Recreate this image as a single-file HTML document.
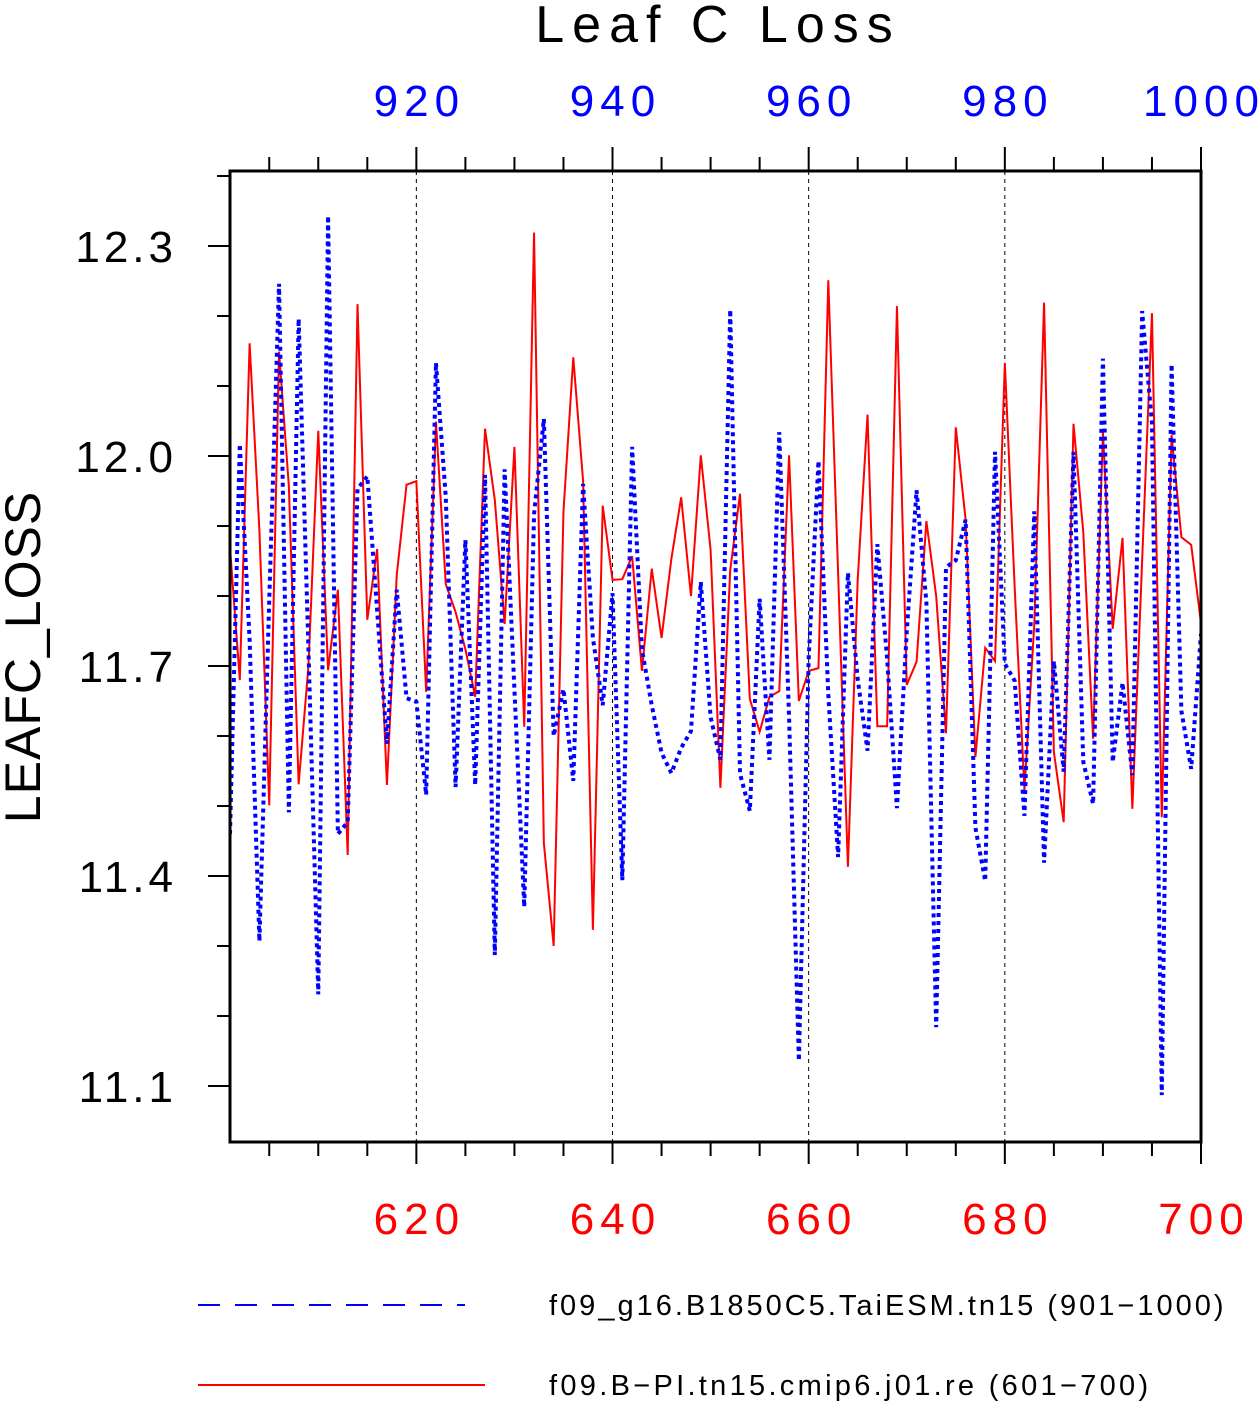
<!DOCTYPE html>
<html><head><meta charset="utf-8"><style>
html,body{margin:0;padding:0;background:#fff;}
svg{display:block;font-family:"Liberation Sans",sans-serif;}
</style></head><body>
<svg id="chart" width="1258" height="1403" viewBox="0 0 1258 1403">
<text x="718" y="42" font-size="52" letter-spacing="8" text-anchor="middle" fill="#000">Leaf C Loss</text>
<text transform="translate(40,657) rotate(-90)" font-size="50" letter-spacing="1" text-anchor="middle" fill="#000">LEAFC_LOSS</text>
<g id="grid"></g>
<g id="ticks"></g>
<g id="series"></g>
<rect x="230" y="171" width="971" height="971" fill="none" stroke="#000" stroke-width="3"/>
<g id="labels"></g>
<g>
<line x1="198" y1="1305" x2="465" y2="1305" stroke="#0000ff" stroke-width="2" stroke-dasharray="22 15"/>
<text x="549" y="1315" font-size="29" letter-spacing="3" fill="#000">f09_g16.B1850C5.TaiESM.tn15 (901−1000)</text>
<line x1="198" y1="1385" x2="485" y2="1385" stroke="#ff0000" stroke-width="2"/>
<text x="549" y="1395" font-size="29" letter-spacing="3.3" fill="#000">f09.B−PI.tn15.cmip6.j01.re (601−700)</text>
</g>
</svg>
<script>
const redYears=[]; for(let y=601;y<=700;y++) redYears.push(y);
const redValues=[11.869,11.680,12.161,11.893,11.501,12.149,11.957,11.531,11.700,12.036,11.694,11.809,11.430,12.217,11.766,11.867,11.530,11.830,11.959,11.964,11.663,12.049,11.817,11.777,11.724,11.656,12.039,11.937,11.760,12.013,11.613,12.319,11.447,11.300,11.921,12.141,11.964,11.323,11.929,11.823,11.824,11.857,11.693,11.839,11.740,11.853,11.941,11.800,12.001,11.866,11.526,11.837,11.946,11.653,11.606,11.656,11.664,12.001,11.650,11.693,11.697,12.251,11.833,11.413,11.824,12.059,11.614,11.614,12.214,11.673,11.706,11.907,11.800,11.604,12.041,11.909,11.570,11.726,11.707,12.133,11.813,11.523,11.759,12.219,11.577,11.477,12.046,11.891,11.596,12.034,11.753,11.883,11.496,11.851,12.204,11.484,12.030,11.884,11.873,11.761];
const blueYears=[]; for(let y=901;y<=1000;y++) blueYears.push(y);
const blueValues=[11.460,12.017,11.737,11.307,11.794,12.246,11.491,12.196,11.723,11.231,12.343,11.460,11.477,11.953,11.971,11.780,11.589,11.809,11.654,11.649,11.516,12.133,11.941,11.527,11.880,11.530,11.973,11.287,11.981,11.666,11.356,11.917,12.053,11.600,11.667,11.536,11.960,11.740,11.644,11.804,11.394,12.013,11.724,11.644,11.576,11.547,11.583,11.607,11.820,11.627,11.566,12.209,11.546,11.493,11.796,11.566,12.034,11.627,11.136,11.710,11.993,11.660,11.427,11.833,11.681,11.579,11.874,11.710,11.497,11.749,11.951,11.791,11.184,11.841,11.851,11.909,11.469,11.393,12.006,11.703,11.679,11.486,11.921,11.419,11.707,11.549,12.006,11.563,11.503,12.139,11.563,11.676,11.544,12.207,12.047,11.087,12.131,11.636,11.553,11.746];
const yTickValues=[11.1,11.4,11.7,12.0,12.3];
const yTickLabels=["11.1","11.4","11.7","12.0","12.3"];
const bottomTicks=[620,640,660,680,700];
const topTicks=[920,940,960,980,1000];

const NS="http://www.w3.org/2000/svg";
const X0=230,X1=1201,Y0=171,Y1=1142;
const xRed=v=>X0+(v-601)*(X1-X0)/99;
const xBlue=v=>X0+(v-901)*(X1-X0)/99;
const yS=v=>246+(12.3-v)*700;
function mk(tag,attrs,parent){const e=document.createElementNS(NS,tag);for(const k in attrs)e.setAttribute(k,attrs[k]);parent.appendChild(e);return e;}
const grid=document.getElementById('grid'),ticks=document.getElementById('ticks'),labels=document.getElementById('labels'),series=document.getElementById('series');

bottomTicks.forEach((t,i)=>{
  if(t<700){const g=mk('line',{x1:xRed(t),x2:xRed(t),y1:Y0,y2:Y1,stroke:'#000','stroke-width':1,'stroke-dasharray':'4 4'},grid);
  
  }
  const l=mk('text',{x:xRed(t)+3,y:1234,'font-size':44,'letter-spacing':6,'text-anchor':'middle',fill:'#ff0000'},labels);
  l.textContent=t;
  
  
});
topTicks.forEach(t=>{
  const l=mk('text',{x:xBlue(t)+3,y:116,'font-size':44,'letter-spacing':6,'text-anchor':'middle',fill:'#0000ff'},labels);
  l.textContent=t;
  
  
});
for(let yr=605;yr<=700;yr+=5){
  const major=yr%20===0;
  const x=xRed(yr);
  const a=mk('line',{x1:x,x2:x,y1:Y1,y2:Y1+(major?22:14),stroke:'#000','stroke-width':2},ticks);
  
  
  const b=mk('line',{x1:x,x2:x,y1:Y0,y2:Y0-(major?24:14),stroke:'#000','stroke-width':2},ticks);
  
  
}
for(let v=11.1;v<=12.41;v+=0.1){
  const vv=Math.round(v*10)/10;
  const major=yTickValues.some(t=>Math.abs(t-vv)<1e-6);
  const y=yS(vv);
  if(y<Y0-1) continue;
  const t=mk('line',{x1:X0,x2:X0-(major?22:13),y1:y,y2:y,stroke:'#000','stroke-width':2},ticks);
  
  
}
yTickValues.forEach((v,i)=>{
  const l=mk('text',{x:177,y:yS(v)+16,'font-size':44,'letter-spacing':4,'text-anchor':'end',fill:'#000'},labels);
  l.textContent=yTickLabels[i];
  
  
});
const clip=mk('clipPath',{id:'pc'},series);
mk('rect',{x:X0,y:Y0,width:X1-X0,height:Y1-Y0},clip);
const rp=mk('polyline',{points:redYears.map((yr,i)=>xRed(yr)+','+yS(redValues[i])).join(' '),fill:'none',stroke:'#ff0000','stroke-width':2,'clip-path':'url(#pc)'},series);


const bp=mk('polyline',{points:blueYears.map((yr,i)=>xBlue(yr)+','+yS(blueValues[i])).join(' '),fill:'none',stroke:'#0000ff','stroke-width':4,'stroke-dasharray':'4 4','clip-path':'url(#pc)'},series);


</script>
</body></html>
